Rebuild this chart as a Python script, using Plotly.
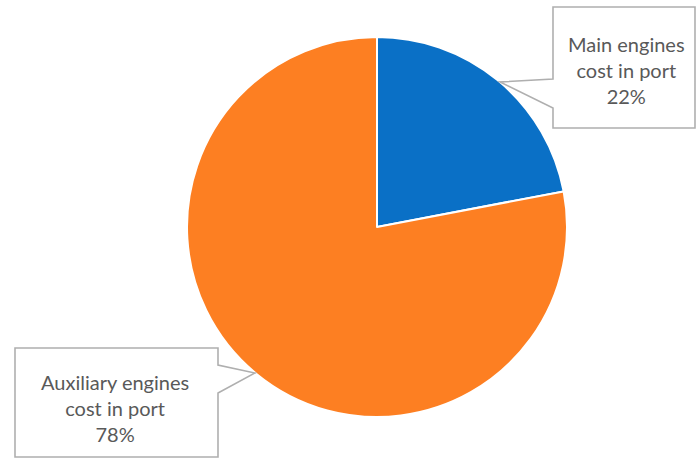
import plotly.graph_objects as go

# Share of port fuel cost by engine type
labels = ["Main engines<br>cost in port", "Auxiliary engines<br>cost in port"]
values = [22, 78]
colors = ["#0A70C6", "#FD7F22"]

W, H = 697, 459
cx, cy, r = 377, 227, 190  # pie centre and radius in pixels

fig = go.Figure(go.Pie(
    labels=labels,
    values=values,
    sort=False,
    direction="clockwise",
    rotation=0,
    textinfo="none",
    hoverinfo="label+percent",
    marker=dict(colors=colors, line=dict(color="white", width=2)),
    domain=dict(x=[(cx - r) / W, (cx + r) / W],
                y=[1 - (cy + r) / H, 1 - (cy - r) / H]),
    showlegend=False,
))


def px(x, y):
    return x / W, 1 - y / H


def callout(points):
    pts = [px(x, y) for x, y in points]
    d = "M " + " L ".join(f"{x:.5f},{y:.5f}" for x, y in pts) + " Z"
    return dict(type="path", xref="paper", yref="paper", path=d,
                fillcolor="white", line=dict(color="#AFAFAF", width=1.6),
                layer="above")


# Callout boxes with pointers towards their slices
main_box = [(553, 7), (695, 7), (695, 128), (553, 128), (553, 108), (500, 82), (553, 79)]
aux_box = [(15, 348), (218, 348), (218, 365), (255, 373), (218, 393), (218, 457), (15, 457)]
fig.update_layout(shapes=[callout(main_box), callout(aux_box)])

total = sum(values)
label_pos = [(626, 70), (115, 408)]
for lab, v, (x, y) in zip(labels, values, label_pos):
    ax, ay = px(x, y)
    fig.add_annotation(
        x=ax, y=ay, xref="paper", yref="paper",
        xanchor="center", yanchor="middle",
        text=f"{lab}<br>{round(100 * v / total)}%",
        showarrow=False, align="center",
        font=dict(family="Lato, Open Sans, sans-serif", size=20, color="#595959"),
    )

fig.update_layout(
    width=W, height=H,
    margin=dict(l=0, r=0, t=0, b=0),
    paper_bgcolor="white", plot_bgcolor="white",
)

fig.write_html("out.html")
